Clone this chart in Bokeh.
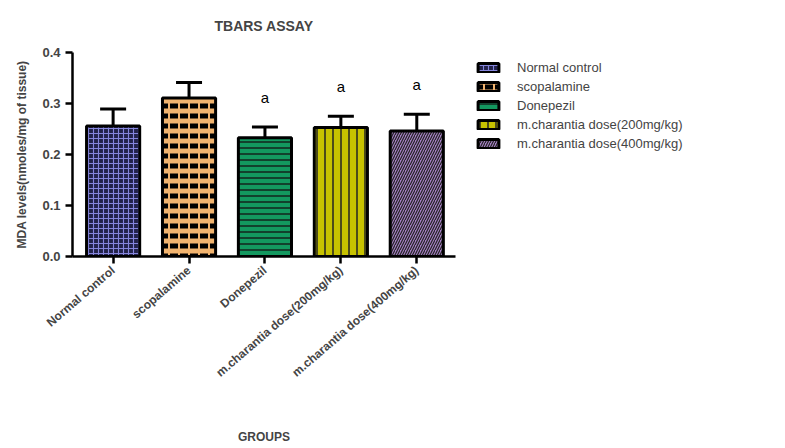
from bokeh.plotting import figure
from bokeh.models import (ColumnDataSource, Range1d, FixedTicker, Whisker, TeeHead,
                          Legend, LegendItem, NumeralTickFormatter)
from bokeh.core.properties import value
from bokeh.embed import file_html
from bokeh.resources import INLINE

groups = ["Normal control", "scopalamine", "Donepezil",
          "m.charantia dose(200mg/kg)", "m.charantia dose(400mg/kg)"]
means = [0.256, 0.311, 0.233, 0.253, 0.246]
sems = [0.033, 0.030, 0.021, 0.022, 0.033]
sig = ["", "", "a", "a", "a"]
y_ticks = [0.0, 0.1, 0.2, 0.3, 0.4]

FONT = "Liberation Sans"

styles = [
    dict(fill_color="#22224a", hatch_pattern="cross", hatch_color="#8585dc",
         hatch_scale=5, hatch_weight=1.1),
    dict(fill_color="#f2b46f", hatch_pattern="horizontal_dash", hatch_color="#000000",
         hatch_scale=10, hatch_weight=5),
    dict(fill_color="#13985f", hatch_pattern="horizontal_line", hatch_color="#111111",
         hatch_scale=6, hatch_weight=1.3),
    dict(fill_color="#c7c200", hatch_pattern="vertical_line", hatch_color="#222222",
         hatch_scale=8, hatch_weight=1.5),
    dict(fill_color="#a57fc4", hatch_pattern="right_diagonal_line", hatch_color="#222222",
         hatch_scale=5, hatch_weight=1.2),
]

xs = list(range(len(groups)))

p = figure(frame_width=383, frame_height=204, output_backend="svg", toolbar_location=None,
           x_range=Range1d(-0.535, 4.51), y_range=Range1d(0, 0.4),
           min_border_left=72, min_border_right=0, min_border_top=52,
           min_border_bottom=184)
p.outline_line_color = None
p.grid.visible = False

items = []
for i, g in enumerate(groups):
    src = ColumnDataSource(dict(x=[xs[i]], top=[means[i]]))
    r = p.vbar(x="x", top="top", width=0.7, source=src, line_color="black",
               line_width=3, **styles[i])
    items.append(LegendItem(label=g, renderers=[r]))

err_src = ColumnDataSource(dict(x=xs, lower=means,
                                upper=[m + s for m, s in zip(means, sems)]))
w = Whisker(base="x", upper="upper", lower="lower", source=err_src,
            line_width=3, line_color="black",
            upper_head=TeeHead(size=26, line_width=3, line_color="black"),
            lower_head=None)
p.add_layout(w)

lab_src = ColumnDataSource(dict(x=xs, y=[m + s + 0.058 for m, s in zip(means, sems)],
                                t=sig))
p.text(x="x", y="y", text="t", source=lab_src, text_align="center",
       text_baseline="middle", text_font=value(FONT), text_font_size="15px",
       text_color="black")

# title
p.title.text = "TBARS ASSAY"
p.title.align = "center"
p.title.vertical_align = "top"
p.title.text_font = FONT
p.title.text_font_size = "14px"
p.title.text_font_style = "bold"
p.title.standoff = 33

# axes
for ax in (p.xaxis[0], p.yaxis[0]):
    ax.axis_line_width = 2.5
    ax.major_tick_line_width = 2.5
    ax.major_tick_out = 7
    ax.major_tick_in = 0
    ax.minor_tick_line_color = None
    ax.major_label_text_font = FONT
    ax.major_label_text_font_style = "bold"
    ax.axis_label_text_font = FONT
    ax.axis_label_text_font_style = "bold"

p.yaxis.ticker = FixedTicker(ticks=y_ticks)
p.yaxis.formatter = NumeralTickFormatter(format="0.0")
p.yaxis.major_label_text_font_size = "13px"
p.yaxis.axis_label = "MDA levels(nmoles/mg of tissue)"
p.yaxis.axis_label_text_font_size = "12px"
p.yaxis.axis_label_standoff = 10

p.xaxis.ticker = FixedTicker(ticks=xs)
p.xaxis.major_label_overrides = {x: g for x, g in zip(xs, groups)}
p.xaxis.major_label_orientation = 0.71
p.xaxis.major_label_text_font_size = "12px"
p.xaxis.axis_label = "GROUPS"
p.xaxis.axis_label_text_font_size = "12px"
p.xaxis.axis_label_standoff = 42

legend = Legend(items=items, location=(20, 105), border_line_color=None,
                background_fill_alpha=0,
                label_text_font=FONT, label_text_font_size="13px",
                glyph_width=26, glyph_height=11, label_height=11,
                spacing=4, padding=5, margin=0, label_standoff=16)
p.add_layout(legend, "right")

open("out.html", "w").write(file_html(p, INLINE))
